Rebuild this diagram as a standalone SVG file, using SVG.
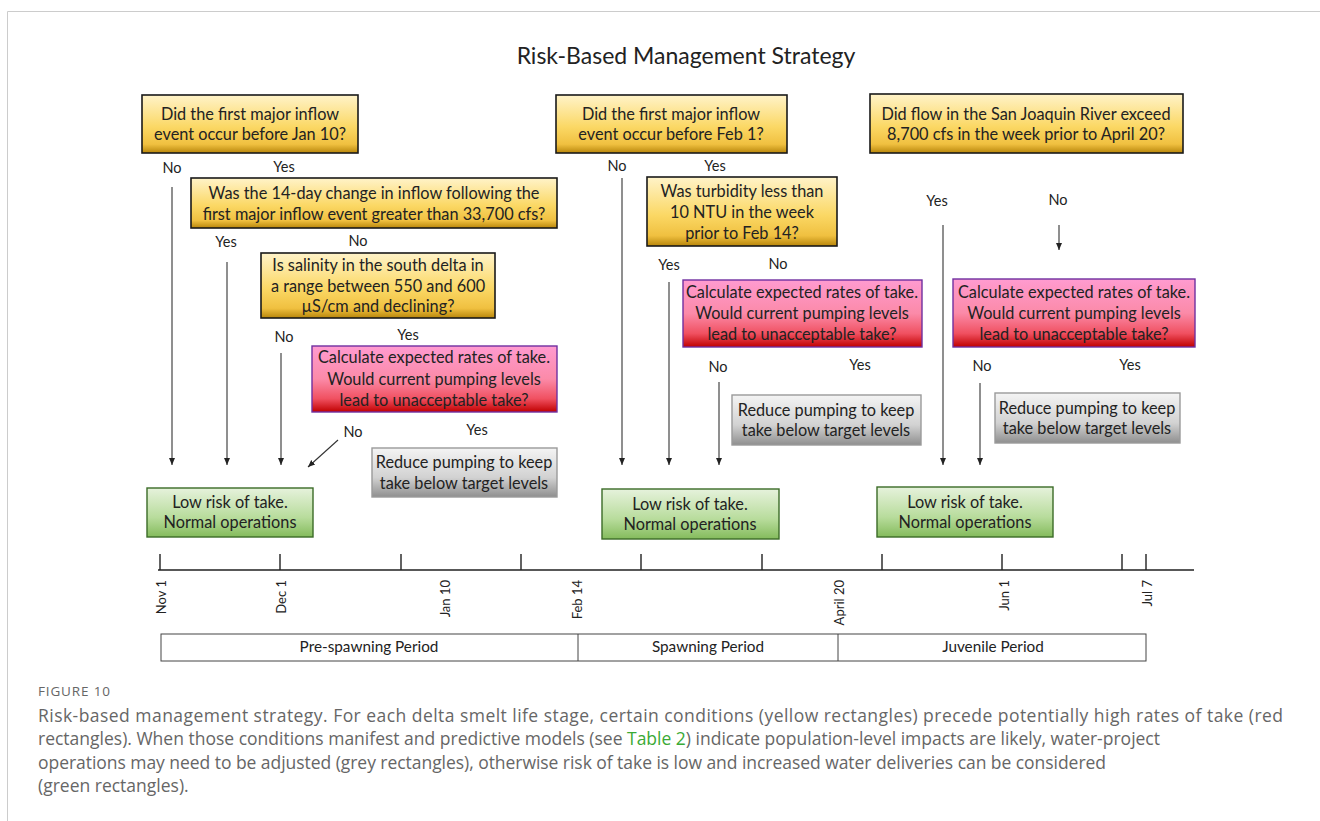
<svg xmlns="http://www.w3.org/2000/svg" width="1320" height="821" viewBox="0 0 1320 821">
<defs>
<linearGradient id="gY" x1="0" y1="0" x2="0" y2="1">
<stop offset="0" stop-color="#fff3c9"/><stop offset="0.55" stop-color="#fbd865"/><stop offset="0.85" stop-color="#f0c040"/><stop offset="1" stop-color="#b8860b"/>
</linearGradient>
<linearGradient id="gR" x1="0" y1="0" x2="0" y2="1">
<stop offset="0" stop-color="#ff9bd0"/><stop offset="0.5" stop-color="#fb8aa8"/><stop offset="0.8" stop-color="#f05060"/><stop offset="1" stop-color="#c00000"/>
</linearGradient>
<linearGradient id="gG" x1="0" y1="0" x2="0" y2="1">
<stop offset="0" stop-color="#e6f2dc"/><stop offset="0.6" stop-color="#b8dc9c"/><stop offset="1" stop-color="#84bb5c"/>
</linearGradient>
<linearGradient id="gS" x1="0" y1="0" x2="0" y2="1">
<stop offset="0" stop-color="#f4f4f4"/><stop offset="0.6" stop-color="#d2d2d2"/><stop offset="1" stop-color="#8f8f8f"/>
</linearGradient>
<marker id="ah" markerWidth="8" markerHeight="8" refX="7" refY="4" orient="auto" markerUnits="userSpaceOnUse">
<path d="M0,1 L7,4 L0,7 Z" fill="#222"/>
</marker>
<style>
.t{font-family:Lato,"Open Sans","Liberation Sans",sans-serif;fill:#222;text-anchor:middle}
.bx{font-size:16.3px}
.lb{font-size:14.5px}
.yel{fill:url(#gY);stroke:#1a1a1a;stroke-width:1.6}
.red{fill:url(#gR);stroke:#7030a0;stroke-width:1.4}
.grn{fill:url(#gG);stroke:#3b6b27;stroke-width:1.4}
.gry{fill:url(#gS);stroke:#9a9a9a;stroke-width:1.4}
.ar{stroke:#333;stroke-width:1.1;fill:none;marker-end:url(#ah)}
.ax{stroke:#222;stroke-width:1.4;fill:none}
.dt{font-family:Lato,"Open Sans","Liberation Sans",sans-serif;font-size:13px;fill:#222;text-anchor:end}
.pd{font-family:Lato,"Open Sans","Liberation Sans",sans-serif;font-size:15.3px;fill:#222;text-anchor:middle}
.cap{font-family:"Open Sans","Liberation Sans",sans-serif;font-size:17.5px;fill:#666}
</style>
</defs>
<rect width="1320" height="821" fill="#fff"/>
<path d="M7.5,821 V11.5 H1320" fill="none" stroke="#cccccc" stroke-width="1"/>
<text class="t" x="686" y="64" font-size="23">Risk-Based Management Strategy</text>

<g id="q1"><rect class="yel" x="142" y="95" width="216" height="58"/>
<text class="t bx" x="250" y="119.5">Did the first major inflow</text>
<text class="t bx" x="250" y="139.5">event occur before Jan 10?</text></g>
<g id="q2"><rect class="yel" x="191" y="178" width="366" height="50"/>
<text class="t bx" x="374" y="198.5">Was the 14-day change in inflow following the</text>
<text class="t bx" x="374" y="219.5">first major inflow event greater than 33,700 cfs?</text></g>
<g id="q3"><rect class="yel" x="261" y="253" width="234" height="65"/>
<text class="t bx" x="378" y="270.5">Is salinity in the south delta in</text>
<text class="t bx" x="378" y="291.5">a range  between 550 and 600</text>
<text class="t bx" x="378" y="311.5">µS/cm and declining?</text></g>
<g id="r1"><rect class="red" x="312" y="346" width="245" height="66"/>
<text class="t bx" x="434" y="362.5">Calculate expected rates of take.</text>
<text class="t bx" x="434" y="384.5">Would current pumping levels</text>
<text class="t bx" x="434" y="405.5">lead to unacceptable take?</text></g>
<g id="s1"><rect class="gry" x="372" y="448" width="185" height="49"/>
<text class="t bx" x="464" y="467.5">Reduce pumping to keep</text>
<text class="t bx" x="464" y="488.5">take below target levels</text></g>
<g id="g1"><rect class="grn" x="147" y="488" width="166" height="49"/>
<text class="t bx" x="230" y="507.5">Low risk of take.</text>
<text class="t bx" x="230" y="527.5">Normal operations</text></g>

<g id="q4"><rect class="yel" x="556" y="95" width="231" height="58"/>
<text class="t bx" x="671" y="119.5">Did the first major inflow</text>
<text class="t bx" x="671" y="139.5">event occur before Feb 1?</text></g>
<g id="q5"><rect class="yel" x="647" y="177" width="190" height="69"/>
<text class="t bx" x="742" y="196.5">Was turbidity less than</text>
<text class="t bx" x="742" y="217.5">10 NTU in the week</text>
<text class="t bx" x="742" y="238.5">prior to Feb 14?</text></g>
<g id="r2"><rect class="red" x="683" y="280" width="239" height="67"/>
<text class="t bx" x="802" y="297.5">Calculate expected rates of take.</text>
<text class="t bx" x="802" y="318.5">Would current pumping levels</text>
<text class="t bx" x="802" y="339.5">lead to unacceptable take?</text></g>
<g id="s2"><rect class="gry" x="732" y="395" width="189" height="50"/>
<text class="t bx" x="826" y="415.5">Reduce pumping to keep</text>
<text class="t bx" x="826" y="435.5">take below target levels</text></g>
<g id="g2"><rect class="grn" x="602" y="489" width="177" height="50"/>
<text class="t bx" x="690" y="509.5">Low risk of take.</text>
<text class="t bx" x="690" y="529.5">Normal operations</text></g>

<g id="q6"><rect class="yel" x="870" y="94" width="313" height="59"/>
<text class="t bx" x="1026" y="119.5">Did flow in the San Joaquin River exceed</text>
<text class="t bx" x="1026" y="139.5">8,700 cfs in the week prior to April 20?</text></g>
<g id="r3"><rect class="red" x="953" y="279" width="242" height="68"/>
<text class="t bx" x="1074" y="297.5">Calculate expected rates of take.</text>
<text class="t bx" x="1074" y="318.5">Would current pumping levels</text>
<text class="t bx" x="1074" y="339.5">lead to unacceptable take?</text></g>
<g id="s3"><rect class="gry" x="995" y="393" width="185" height="50"/>
<text class="t bx" x="1087" y="413.5">Reduce pumping to keep</text>
<text class="t bx" x="1087" y="433.5">take below target levels</text></g>
<g id="g3"><rect class="grn" x="877" y="487" width="176" height="50"/>
<text class="t bx" x="965" y="507.5">Low risk of take.</text>
<text class="t bx" x="965" y="527.5">Normal operations</text></g>

<g id="labels">
<text class="t lb" x="172" y="173">No</text><text class="t lb" x="284" y="172">Yes</text>
<text class="t lb" x="226" y="247">Yes</text><text class="t lb" x="358" y="246">No</text>
<text class="t lb" x="284" y="342">No</text><text class="t lb" x="408" y="340">Yes</text>
<text class="t lb" x="353" y="437">No</text><text class="t lb" x="477" y="435">Yes</text>
<text class="t lb" x="617" y="171">No</text><text class="t lb" x="715" y="171">Yes</text>
<text class="t lb" x="669" y="270">Yes</text><text class="t lb" x="778" y="269">No</text>
<text class="t lb" x="718" y="372">No</text><text class="t lb" x="860" y="370">Yes</text>
<text class="t lb" x="937" y="206">Yes</text><text class="t lb" x="1058" y="205">No</text>
<text class="t lb" x="982" y="371">No</text><text class="t lb" x="1130" y="370">Yes</text>
</g>

<g id="connectors">
<line class="ar" x1="172" y1="187" x2="172" y2="465"/>
<line class="ar" x1="227" y1="262" x2="227" y2="465"/>
<line class="ar" x1="281" y1="353" x2="281" y2="465"/>
<line class="ar" x1="338" y1="440" x2="308" y2="467"/>
<line class="ar" x1="622" y1="178" x2="622" y2="465"/>
<line class="ar" x1="669" y1="282" x2="669" y2="465"/>
<line class="ar" x1="719" y1="382" x2="719" y2="465"/>
<line class="ar" x1="943" y1="225" x2="943" y2="465"/>
<line class="ar" x1="980" y1="383" x2="980" y2="465"/>
<line class="ar" x1="1059" y1="225" x2="1059" y2="250"/>
</g>

<g id="timeline">
<path class="ax" d="M158,570 H1194 M160,554 V570 M280,554 V570 M401,554 V570 M521,554 V570 M641,554 V570 M762,554 V570 M882,554 V570 M1002,554 V570 M1122,554 V570 M1146,554 V570"/>
<text class="dt" transform="translate(166,580) rotate(-90)">Nov 1</text>
<text class="dt" transform="translate(286,580) rotate(-90)">Dec 1</text>
<text class="dt" transform="translate(450,580) rotate(-90)">Jan 10</text>
<text class="dt" transform="translate(582,580) rotate(-90)">Feb 14</text>
<text class="dt" transform="translate(844,580) rotate(-90)">April 20</text>
<text class="dt" transform="translate(1009,580) rotate(-90)">Jun 1</text>
<text class="dt" transform="translate(1152,580) rotate(-90)">Jul 7</text>
<rect x="161" y="634" width="985" height="27" fill="none" stroke="#444" stroke-width="1"/>
<path d="M578,634 V661 M838,634 V661" stroke="#444" stroke-width="1"/>
<text class="pd" x="369" y="651.5">Pre-spawning Period</text>
<text class="pd" x="708" y="651.5">Spawning Period</text>
<text class="pd" x="993" y="651.5">Juvenile Period</text>
</g>

<g id="caption">
<text x="38" y="696" font-family="'Open Sans','Liberation Sans',sans-serif" font-size="13.5" fill="#666" textLength="72">FIGURE 10</text>
<text class="cap" x="38" y="722" textLength="1245">Risk-based management strategy. For each delta smelt life stage, certain conditions (yellow rectangles) precede potentially high rates of take (red</text>
<text class="cap" x="38" y="745" textLength="1122">rectangles). When those conditions manifest and predictive models (see <tspan fill="#3aaa35">Table 2</tspan>) indicate population-level impacts are likely, water-project</text>
<text class="cap" x="38" y="769" textLength="1068">operations may need to be adjusted (grey rectangles), otherwise risk of take is low and increased water deliveries can be considered</text>
<text class="cap" x="38" y="792">(green rectangles).</text>
</g>
</svg>
